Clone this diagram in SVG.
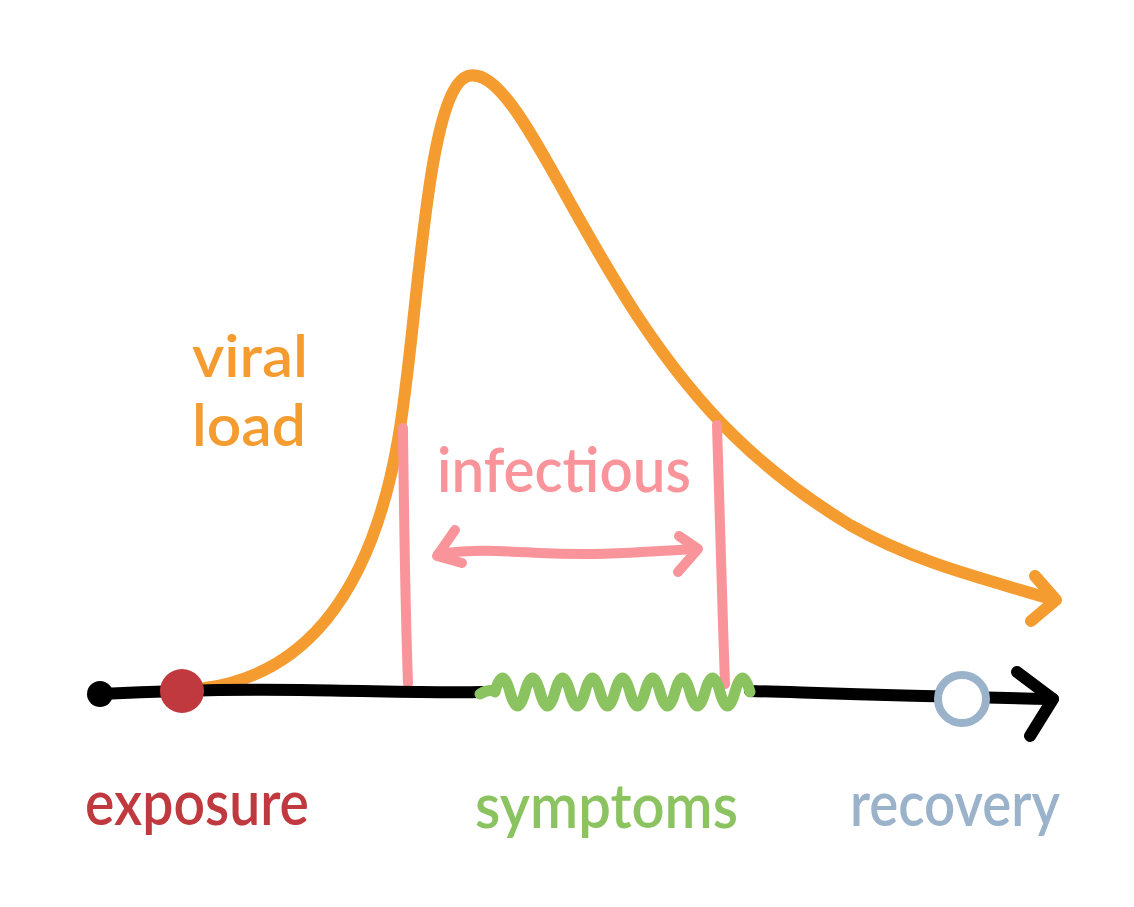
<svg xmlns="http://www.w3.org/2000/svg" width="1134" height="907" viewBox="0 0 1134 907">
<style>
.s{fill:none;stroke-linecap:round;stroke-linejoin:round}
.blk{stroke:#000;stroke-width:12}
.org{stroke:#F59C31;stroke-width:12}
.pnk{stroke:#F9959A;stroke-width:10}
.grn{stroke:#8CC361;stroke-width:11}
.t{font-family:Lato,"Open Sans","DejaVu Sans",sans-serif;font-size:62px;font-weight:600}
.vl{font-size:57px}
</style>
<rect width="1134" height="907" fill="#fff"/>
<g id="connectors">
<path class="s org" d="M205,688 C300,675 370,600 398,440 C418,330 425,90 468,76 C510,65 560,200 640,320 C700,410 760,470 850,525 C920,565 990,580 1054,600"/>
<path class="s org" d="M1035,576 L1056,600 L1031,621"/>
<path class="s pnk" d="M403,428 C404,520 405,600 408,683"/>
<path class="s pnk" d="M717,425 C720,520 722,600 725,684"/>
<path class="s pnk" d="M438,554 C480,549 500,551 540,553 C600,556 640,552 695,549"/>
<path class="s pnk" d="M455,530 L437,556 L462,563"/>
<path class="s pnk" d="M679,536 L698,549 L678,572"/>
<path class="s blk" d="M100,694 C180,690 230,689 300,690 C380,691 430,693 482,692"/>
<path class="s blk" d="M750,691 C820,693 900,696 1053,699"/>
<path class="s blk" d="M1017,672 L1053,699 L1030,736"/>
<path class="s grn" d="M480,694 C487,690 492,690 495,692 q7.5,-28 15,0 t15,0 t15,0 t15,0 t15,0 t15,0 t15,0 t15,0 t15,0 t15,0 t15,0 t15,0 t15,0 t15,0 t15,0 t15,0 t15,0"/>
</g>
<g id="start"><circle cx="100" cy="694" r="13" fill="#000"/></g>
<g id="exposure-dot"><circle cx="182" cy="691" r="22" fill="#C0393F"/></g>
<g id="recovery-dot"><circle cx="962" cy="699" r="24" fill="#fff" stroke="#9AB3CA" stroke-width="8"/></g>
<g id="viral-load" fill="#F59C31" class="t">
<text class="vl" x="192" y="377" textLength="116" lengthAdjust="spacingAndGlyphs">viral</text>
<text class="vl" x="192" y="446" textLength="114" lengthAdjust="spacingAndGlyphs">load</text>
</g>
<g id="infectious"><text class="t" x="437" y="492" fill="#F9959A" textLength="254" lengthAdjust="spacingAndGlyphs">infectious</text></g>
<g id="exposure"><text class="t" x="85" y="825" fill="#C0393F" textLength="224" lengthAdjust="spacingAndGlyphs">exposure</text></g>
<g id="symptoms"><text class="t" x="475" y="828" fill="#8CC361" textLength="263" lengthAdjust="spacingAndGlyphs">symptoms</text></g>
<g id="recovery"><text class="t" x="850" y="826" fill="#9AB3CA" textLength="210" lengthAdjust="spacingAndGlyphs">recovery</text></g>
</svg>
